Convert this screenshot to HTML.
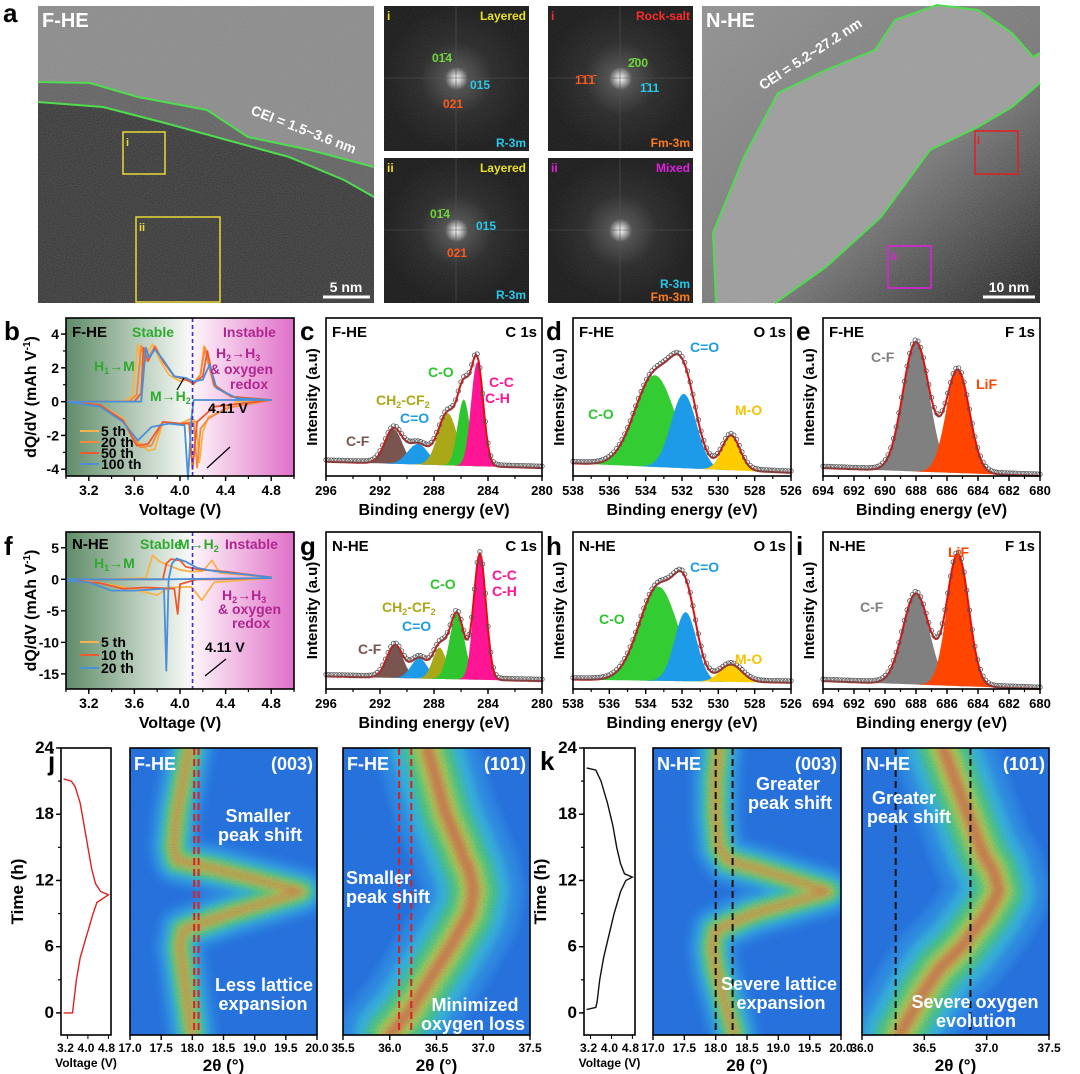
<!DOCTYPE html>
<html><head><meta charset="utf-8"><style>
html,body{margin:0;padding:0;background:#fff}
svg{display:block;font-family:"Liberation Sans",Arial,sans-serif;font-weight:bold}
</style></head><body>
<svg id="fig" width="1080" height="1074" viewBox="0 0 1080 1074" xmlns="http://www.w3.org/2000/svg">
<defs>
<filter id="noise" x="0" y="0" width="100%" height="100%"><feTurbulence type="fractalNoise" baseFrequency="0.9" numOctaves="2" seed="3"/><feColorMatrix type="matrix" values="0 0 0 0 0.5  0 0 0 0 0.5  0 0 0 0 0.5  0 0 0 0.35 0"/></filter>
<filter id="bnoise" x="0" y="0" width="100%" height="100%"><feTurbulence type="fractalNoise" baseFrequency="0.7" numOctaves="2" seed="7"/><feColorMatrix type="matrix" values="0 0 0 0 0.05  0 0 0 0 0.2  0 0 0 0 0.6  0 0 0 0.45 0"/></filter>
<filter id="blur" filterUnits="userSpaceOnUse" x="0" y="0" width="1080" height="1074"><feGaussianBlur stdDeviation="4"/></filter>
<radialGradient id="fft"><stop offset="0" stop-color="#fff"/><stop offset="0.05" stop-color="#d0d0d0"/><stop offset="0.16" stop-color="#4a4a4a"/><stop offset="0.5" stop-color="#242424"/><stop offset="1" stop-color="#161616"/></radialGradient>
<linearGradient id="bgb" x1="0" x2="1" y1="0" y2="0"><stop offset="0" stop-color="#5f8c68"/><stop offset="0.53" stop-color="#f4f8f4"/><stop offset="0.56" stop-color="#fdf4fa"/><stop offset="1" stop-color="#e070c8"/></linearGradient>
<linearGradient id="nhe" x1="0" x2="1" y1="0" y2="1"><stop offset="0" stop-color="#8d8d8d"/><stop offset="0.6" stop-color="#707070"/><stop offset="1" stop-color="#151515"/></linearGradient>
</defs>
</svg>
<script>
// ---------- data ----------
const bV5=[3.0,3.5,3.58,3.63,3.66,3.72,3.76,3.82,3.9,4.0,4.06,4.12,4.18,4.21,4.25,4.32,4.45,4.8,4.8,4.5,4.4,4.25,4.2,4.17,4.14,4.1,4.0,3.85,3.78,3.72,3.62,3.5,3.3,3.0];
const bQ5=[0,0,0.3,3.4,2.2,3.0,3.4,2.5,1.6,1.2,1.3,1.0,1.6,3.3,2.3,0.8,0.3,0.1,0.1,0,-0.5,-0.9,-1.8,-3.6,-1.2,-1.0,-1.3,-1.2,-2.8,-2.9,-2.3,-1.0,-0.2,0];
const bV20=[3.0,3.55,3.62,3.66,3.7,3.74,3.78,3.85,3.95,4.05,4.12,4.18,4.22,4.25,4.3,4.45,4.8,4.8,4.4,4.25,4.18,4.15,4.12,4.0,3.85,3.75,3.65,3.5,3.3,3.0];
const bQ20=[0,0,0.4,3.3,2.4,2.8,3.3,2.4,1.5,1.3,1.1,1.6,3.2,2.2,0.9,0.3,0.1,0.1,-0.4,-1.0,-1.6,-3.9,-1.2,-1.3,-1.2,-2.6,-2.7,-1.1,-0.2,0];
const bV50=[3.0,3.6,3.66,3.68,3.72,3.78,3.85,3.95,4.05,4.12,4.2,4.24,4.3,4.45,4.8,4.8,4.3,4.15,4.11,4.08,4.0,3.85,3.72,3.62,3.5,3.3,3.0];
const bQ50=[0,0,0.5,3.2,2.4,3.2,2.4,1.5,1.3,1.1,1.5,3.0,1.0,0.3,0.1,0.1,-0.3,-1.2,-4.0,-1.3,-1.3,-1.2,-2.5,-2.6,-1.1,-0.2,0];
const bV100=[3.0,3.66,3.7,3.73,3.78,3.85,3.95,4.05,4.12,4.2,4.26,4.32,4.5,4.8,4.8,4.12,4.1,4.07,4.04,3.9,3.75,3.63,3.5,3.3,3.0];
const bQ100=[0,0,3.2,2.6,3.1,2.5,1.5,1.4,1.2,1.3,2.2,0.8,0.2,0.1,0.1,0.1,-1.0,-4.6,-1.4,-1.3,-1.5,-2.3,-1.2,-0.3,0];
const fV5=[3.0,3.3,3.7,3.76,3.82,3.9,4.0,4.1,4.2,4.28,4.35,4.8,4.8,4.3,4.19,4.1,3.9,3.8,3.5,3.2,3.0];
const fQ5=[-0.1,0,0.2,3.8,2.8,2.2,1.5,1.2,1.3,3.0,1.0,0.3,0.2,-0.5,-3.3,-1.2,-1.3,-2.5,-1.2,-0.3,-0.1];
const fV10=[3.0,3.5,3.85,3.88,3.92,4.0,4.05,4.15,4.4,4.8,4.8,4.35,4.15,4.0,3.98,3.95,3.7,3.5,3.3,3.0];
const fQ10=[-0.1,0,0,2.5,3.2,3.0,2.0,1.6,1.2,0.3,0.2,0,0,-0.8,-5.5,-1.5,-1.3,-1.5,-0.6,-0.1];
const fV20=[3.0,3.9,3.93,3.97,4.05,4.15,4.3,4.6,4.8,4.8,3.9,3.88,3.86,3.6,3.4,3.2,3.0];
const fQ20=[0,0,2.5,3.3,2.8,1.8,1.3,0.7,0.3,0.2,0,-14.5,-1.5,-1.8,-1.8,-0.5,-0.2];
// XPS components: centers, amplitudes, widths
const cC=[291.0,289.2,287.0,285.8,284.8], cA=[0.22,0.13,0.33,0.42,0.66], cW=[0.65,0.75,0.7,0.45,0.45];
const gC=[290.9,289.1,287.6,286.3,284.6], gA=[0.21,0.13,0.2,0.42,0.8], gW=[0.6,0.6,0.5,0.55,0.45];
const dC=[533.5,531.9,529.3], dA=[0.58,0.47,0.22], dW=[1.1,0.7,0.5];
const hC=[533.3,531.8,529.3], hA=[0.6,0.44,0.11], hW=[1.05,0.6,0.6];
const eC=[688.0,685.3], eA=[0.82,0.65], eW=[0.85,0.75];
const iC=[688.0,685.3], iA=[0.58,0.84], iW=[0.85,0.7];
// time-resolved XRD peak positions
const tT=[-2,0,2,4,6,7.5,9,11,13,13.8,15,18,21,24];
const j003=[18.0,17.95,17.9,17.85,17.8,17.85,18.6,19.75,18.4,17.75,17.7,17.75,17.85,17.95];
const j101=[36.0,36.2,36.35,36.5,36.65,36.75,36.85,36.9,36.85,36.8,36.75,36.6,36.5,36.4];
const k003=[18.3,18.2,18.1,18.0,17.95,18.0,18.6,19.8,18.7,18.2,18.05,18.0,18.0,18.05];
const k101=[36.3,36.4,36.5,36.62,36.8,36.9,37.0,37.1,37.05,37.0,36.95,36.85,36.75,36.65];
// voltage profiles
const jT=[0,0,1,3,5,7,9,10,10.7,11,11.7,13,15,17,19,20.5,21,21.2];
const jV=[3.05,3.4,3.45,3.55,3.7,3.95,4.2,4.35,4.8,4.5,4.3,4.15,4.0,3.85,3.7,3.5,3.35,3.05];
const kT=[0.3,0.5,1,3,5,7,9,11,12,12.3,12.6,13.5,15,17,19,21,22,22.2];
const kV=[3.05,3.4,3.45,3.55,3.7,3.9,4.1,4.35,4.55,4.8,4.5,4.35,4.2,4.05,3.85,3.6,3.4,3.05];

// ---------- helpers ----------
const NS='http://www.w3.org/2000/svg';
const svg=document.getElementById('fig');
function mk(tag,attrs,name,parent){
  const el=document.createElementNS(NS,tag);
  for(const k in attrs) el.setAttribute(k,attrs[k]);
  
  
  (parent||svg).appendChild(el);return el;
}
function txt(x,y,s,size,fill,name,anchor,extra){
  const a=Object.assign({x:x,y:y,'font-size':size,fill:fill||'#000','text-anchor':anchor||'start'},extra||{});
  const t=mk('text',a,name);t.innerHTML=s;return t;
}
function ax(p){
  p.sx=v=>p.x0+(v-p.xmin)/(p.xmax-p.xmin)*(p.x1-p.x0);
  p.sy=v=>p.y1-(v-p.ymin)/(p.ymax-p.ymin)*(p.y1-p.y0);
  return p;
}
function frame(p,name){mk('rect',{x:p.x0,y:p.y0,width:p.x1-p.x0,height:p.y1-p.y0,fill:'none',stroke:'#000','stroke-width':1.6},name);}
function xticks(p,vals,minor,labels,ly,fs,name){
  vals.forEach((v,i)=>{mk('line',{x1:p.sx(v),x2:p.sx(v),y1:p.y1,y2:p.y1+5,stroke:'#000','stroke-width':1.4},name+'-tick');
    txt(p.sx(v),ly,labels[i],fs||13,'#000',name+'-label','middle');});
  minor.forEach(v=>mk('line',{x1:p.sx(v),x2:p.sx(v),y1:p.y1,y2:p.y1+3,stroke:'#000','stroke-width':1.2},name+'-minor-tick'));
}
function yticks(p,vals,minor,labels,fs,name){
  vals.forEach((v,i)=>{mk('line',{x1:p.x0-5,x2:p.x0,y1:p.sy(v),y2:p.sy(v),stroke:'#000','stroke-width':1.4},name+'-tick');
    txt(p.x0-7,p.sy(v)+5,labels[i],fs||14,'#000',name+'-label','end');});
  minor.forEach(v=>mk('line',{x1:p.x0-3,x2:p.x0,y1:p.sy(v),y2:p.sy(v),stroke:'#000','stroke-width':1.2},name+'-minor-tick'));
}
function range(a,b,s){const r=[];for(let v=a;v<=b+1e-9;v+=s)r.push(+v.toFixed(3));return r;}
function poly(p,X,Y,attrs,name){
  const pts=X.map((x,i)=>p.sx(x).toFixed(1)+','+p.sy(Y[i]).toFixed(1)).join(' ');
  return mk('polyline',Object.assign({points:pts,fill:'none'},attrs),name);
}
function label(x,y,s,name){txt(x,y,s,26,'#000',name);}

// ---------- panel a ----------
label(3,22,'a','panel-label-a');
mk('rect',{x:38,y:6,width:336,height:297,fill:'#878787'},'tem-fhe-image');
mk('path',{d:'M38,82 L90,83 L138,97 L207,110 L248,137 L310,150 L374,167 L374,303 L38,303 Z',fill:'#5a5a5a'},'tem-fhe-cei-layer');
mk('path',{d:'M38,102 L103,107 L165,123 L227,140 L289,157 L344,180 L374,197 L374,303 L38,303 Z',fill:'#2e2e2e'},'tem-fhe-bulk');
mk('rect',{x:38,y:6,width:336,height:297,filter:'url(#noise)'},'tem-fhe-texture');
mk('polyline',{points:'38,82 90,83 138,97 207,110 248,137 310,150 374,167',fill:'none',stroke:'#4fdc4f','stroke-width':2},'cei-outer-line');
mk('polyline',{points:'38,102 103,107 165,123 227,140 289,157 344,180 374,197',fill:'none',stroke:'#4fdc4f','stroke-width':2},'cei-inner-line');
mk('rect',{x:123,y:132,width:42,height:42,fill:'none',stroke:'#e8d838','stroke-width':1.5},'region-i-box');
mk('rect',{x:136,y:217,width:84,height:85,fill:'none',stroke:'#e8d838','stroke-width':1.5},'region-ii-box');
txt(126,146,'i',11,'#e8d838','region-i-label');txt(139,231,'ii',11,'#e8d838','region-ii-label');
txt(42,27,'F-HE',20,'#fff','tem-fhe-title');
txt(302,134,'CEI = 1.5~3.6 nm',14,'#fff','cei-fhe-label','middle',{transform:'rotate(21 302 134)'});
mk('line',{x1:323,y1:297,x2:370,y2:297,stroke:'#fff','stroke-width':3},'scale-bar-5nm');
txt(346,292,'5 nm',14,'#fff','scale-bar-5nm-label','middle');
// FFT panels
const fft=[[384,6,'fft-layered-i'],[384,158,'fft-layered-ii'],[548,6,'fft-rocksalt-i'],[548,158,'fft-mixed-ii']];
fft.forEach(f=>{mk('rect',{x:f[0],y:f[1],width:145,height:145,fill:'url(#fft)'},f[2]);
  mk('rect',{x:f[0],y:f[1],width:145,height:145,filter:'url(#noise)',opacity:0.5},f[2]+'-noise');
  mk('line',{x1:f[0]+72,x2:f[0]+72,y1:f[1],y2:f[1]+145,stroke:'#555','stroke-width':0.6},f[2]+'-axis-v');
  mk('line',{x1:f[0],x2:f[0]+145,y1:f[1]+72,y2:f[1]+72,stroke:'#555','stroke-width':0.6},f[2]+'-axis-h');});
txt(387,20,'i',12,'#e8e020','fft-i-tag');txt(526,20,'Layered',12,'#e8e020','fft-i-phase','end');
txt(526,147,'R-3m',12,'#28c8e8','fft-i-group','end');
txt(432,62,'01&#772;4',12,'#6fd83a','fft-i-014');txt(470,89,'015',12,'#28c8e8','fft-i-015');txt(443,108,'021',12,'#ff5a1e','fft-i-021');
txt(387,172,'ii',12,'#e8e020','fft-ii-tag');txt(526,172,'Layered',12,'#e8e020','fft-ii-phase','end');
txt(526,299,'R-3m',12,'#28c8e8','fft-ii-group','end');
txt(430,218,'01&#772;4',12,'#6fd83a','fft-ii-014');txt(476,230,'015',12,'#28c8e8','fft-ii-015');txt(447,257,'021',12,'#ff5a1e','fft-ii-021');
txt(551,20,'i',12,'#ff2a2a','fft-rs-tag');txt(690,20,'Rock-salt',12,'#ff2a2a','fft-rs-phase','end');
txt(690,147,'Fm-3m',12,'#ff7a1e','fft-rs-group','end');
txt(628,67,'2&#772;00',12,'#6fd83a','fft-rs-200');txt(575,84,'1&#772;1&#772;1&#772;',12,'#ff5a1e','fft-rs-111');txt(640,92,'1&#772;11',12,'#28c8e8','fft-rs-111b');
txt(551,172,'ii',12,'#e020e0','fft-mixed-tag');txt(690,172,'Mixed',12,'#e020e0','fft-mixed-phase','end');
txt(690,288,'R-3m',12,'#28c8e8','fft-mixed-group1','end');txt(690,301,'Fm-3m',12,'#ff7a1e','fft-mixed-group2','end');
// N-HE TEM
mk('rect',{x:702,y:6,width:338,height:297,fill:'url(#nhe)'},'tem-nhe-image');
mk('path',{d:'M716,303 L713,233 L744,157 L778,93 L826,70 L875,50 L895,20 L937,5 L978,10 L1012,33 L1033,57 L1040,53 L1040,83 L1012,107 L978,127 L930,150 L881,217 L826,267 L775,303 Z',fill:'#9a9a9a'},'nhe-cei-region');
mk('rect',{x:702,y:6,width:338,height:297,filter:'url(#noise)'},'tem-nhe-texture');
mk('polyline',{points:'716,303 713,233 744,157 778,93 826,70 875,50 895,20 937,5 978,10 1012,33 1033,57 1040,53',fill:'none',stroke:'#4fdc4f','stroke-width':2},'nhe-cei-outer');
mk('polyline',{points:'775,303 826,267 881,217 930,150 978,127 1012,107 1040,83',fill:'none',stroke:'#4fdc4f','stroke-width':2},'nhe-cei-inner');
mk('rect',{x:975,y:131,width:43,height:43,fill:'none',stroke:'#e02020','stroke-width':1.5},'nhe-region-i-box');
mk('rect',{x:888,y:246,width:43,height:42,fill:'none',stroke:'#e020e0','stroke-width':1.5},'nhe-region-ii-box');
txt(977,144,'i',11,'#e02020','nhe-region-i-label');txt(891,260,'ii',11,'#e020e0','nhe-region-ii-label');
txt(706,27,'N-HE',20,'#fff','tem-nhe-title');
txt(813,58,'CEI = 5.2~27.2 nm',14,'#fff','cei-nhe-label','middle',{transform:'rotate(-33 813 58)'});
mk('line',{x1:983,y1:297,x2:1035,y2:297,stroke:'#fff','stroke-width':3},'scale-bar-10nm');
txt(1009,292,'10 nm',14,'#fff','scale-bar-10nm-label','middle');

// ---------- dQ/dV panels ----------
function dqdv(p,tag,yt,ym,yl,series,leg,legY){
  mk('rect',{x:p.x0,y:p.y0,width:p.x1-p.x0,height:p.y1-p.y0,fill:'url(#bgb)'},tag+'-background');
  series.forEach(s=>poly(p,s[0],s[1],{stroke:s[2],'stroke-width':1.8,'stroke-linejoin':'round'},tag+'-curve-'+s[3]));
  mk('line',{x1:p.sx(4.11),x2:p.sx(4.11),y1:p.y0,y2:p.y1,stroke:'#3a2ae0','stroke-width':1.6,'stroke-dasharray':'4,3'},tag+'-4.11v-line');
  frame(p,tag+'-frame');
  xticks(p,range(3.2,4.8,0.4),range(3.0,5.0,0.2),['3.2','3.6','4.0','4.4','4.8'],p.y1+19,14,tag+'-x');
  yticks(p,yt,ym,yl,14,tag+'-y');
  txt((p.x0+p.x1)/2,p.y1+39,'Voltage (V)',16,'#000',tag+'-x-title','middle');
  txt(36,(p.y0+p.y1)/2,'dQ/dV (mAh V<tspan font-size="10" dy="-6">-1</tspan><tspan dy="6">)</tspan>',16,'#000',tag+'-y-title','middle',{transform:'rotate(-90 36 '+(p.y0+p.y1)/2+')'});
  series.forEach((s,i)=>{mk('line',{x1:80,x2:99,y1:legY[i],y2:legY[i],stroke:s[2],'stroke-width':2},tag+'-legend-line');
    txt(101,legY[i]+5,leg[i],14,'#000',tag+'-legend-entry');});
}
label(4,340,'b','panel-label-b');
const pb=ax({x0:66,x1:294,y0:318,y1:476,xmin:3.0,xmax:5.0,ymin:-4.4,ymax:4.95});
dqdv(pb,'b',[-4,-2,0,2,4],range(-4,4,1),['-4','-2','0','2','4'],
 [[bV5,bQ5,'#f8b24a','5th'],[bV20,bQ20,'#f38a3a','20th'],[bV50,bQ50,'#ee5a2e','50th'],[bV100,bQ100,'#4a8fd8','100th']],
 ['5 th','20 th','50 th','100 th'],[431,442,453,464]);
txt(72,337,'F-HE',15,'#000','b-sample-label');
txt(132,337,'Stable',14,'#2eaa2e','b-stable-label');txt(223,337,'Instable',14,'#b0268f','b-instable-label');
txt(94,371,'H<tspan font-size="9" dy="3">1</tspan><tspan dy="-3">&#8594;M</tspan>',14,'#2eaa2e','b-h1-m-label');
txt(216,358,'H<tspan font-size="9" dy="3">2</tspan><tspan dy="-3">&#8594;H</tspan><tspan font-size="9" dy="3">3</tspan>',14,'#b0268f','b-h2-h3-label');
txt(210,374,'&amp; oxygen',14,'#b0268f','b-oxygen-label');txt(230,389,'redox',14,'#b0268f','b-redox-label');
txt(150,401,'M&#8594;H<tspan font-size="9" dy="3">2</tspan>',14,'#2eaa2e','b-m-h2-label');
mk('line',{x1:177,y1:390,x2:184,y2:378,stroke:'#000','stroke-width':1.2},'b-m-h2-arrow');
txt(208,413,'4.11 V',14,'#000','b-4.11v-label');
mk('line',{x1:230,y1:447,x2:207,y2:468,stroke:'#000','stroke-width':1.2},'b-4.11v-arrow');

label(4,555,'f','panel-label-f');
const pf=ax({x0:66,x1:294,y0:532,y1:689,xmin:3.0,xmax:5.0,ymin:-17.4,ymax:7.5});
dqdv(pf,'f',[-15,-10,-5,0,5],[],['-15','-10','-5','0','5'],
 [[fV5,fQ5,'#f8b24a','5th'],[fV10,fQ10,'#ee5a2e','10th'],[fV20,fQ20,'#4a8fd8','20th']],
 ['5 th','10 th','20 th'],[642,655,668]);
txt(72,549,'N-HE',15,'#000','f-sample-label');
txt(140,549,'Stable',14,'#2eaa2e','f-stable-label');txt(178,549,'M&#8594;H<tspan font-size="9" dy="3">2</tspan>',14,'#2eaa2e','f-m-h2-label');
txt(225,549,'Instable',14,'#b0268f','f-instable-label');
txt(94,568,'H<tspan font-size="9" dy="3">1</tspan><tspan dy="-3">&#8594;M</tspan>',14,'#2eaa2e','f-h1-m-label');
txt(222,600,'H<tspan font-size="9" dy="3">2</tspan><tspan dy="-3">&#8594;H</tspan><tspan font-size="9" dy="3">3</tspan>',14,'#b0268f','f-h2-h3-label');
txt(218,614,'&amp; oxygen',14,'#b0268f','f-oxygen-label');txt(232,628,'redox',14,'#b0268f','f-redox-label');
txt(205,652,'4.11 V',14,'#000','f-4.11v-label');
mk('line',{x1:226,y1:659,x2:205,y2:676,stroke:'#000','stroke-width':1.2},'f-4.11v-arrow');

// ---------- XPS panels ----------
const cols=['#7a5550','#1e9be8','#aaa818','#2ec52e','#ff1493'];
function gauss(C,A,W,e){let s=0;for(let i=0;i<C.length;i++)s+=A[i]*Math.exp(-0.5*((e-C[i])/W[i])**2);return s;}
function xps(p,tag,C,A,W,colors,bl0,bl1,maj,labs,minStep){
  const base=e=>bl0+(bl1-bl0)*(e-p.xmin)/(p.xmax-p.xmin);
  const N=160,E=[];for(let k=0;k<=N;k++)E.push(p.xmin+(p.xmax-p.xmin)*k/N);
  C.forEach((c,i)=>{
    const top=E.map(e=>p.sx(e).toFixed(1)+','+p.sy(base(e)+A[i]*Math.exp(-0.5*((e-c)/W[i])**2)).toFixed(1));
    const bot=E.slice().reverse().map(e=>p.sx(e).toFixed(1)+','+p.sy(base(e)).toFixed(1));
    mk('polygon',{points:top.concat(bot).join(' '),fill:colors[i]},tag+'-component-'+i);
  });
  const env=E.map(e=>base(e)+gauss(C,A,W,e));
  poly(p,E,env,{stroke:'#e01010','stroke-width':2},tag+'-fit-envelope');
  for(let k=0;k<=N;k+=2)mk('circle',{cx:p.sx(E[k]),cy:p.sy(env[k]+0.012),r:2.2,fill:'none',stroke:'#555','stroke-width':0.8},tag+'-data-point');
  frame(p,tag+'-frame');
  const mn=[];for(let v=Math.min(p.xmin,p.xmax);v<=Math.max(p.xmin,p.xmax);v+=minStep)mn.push(v);
  xticks(p,maj,mn,labs,p.y1+19,13,tag+'-x');
  txt((p.x0+p.x1)/2,p.y1+39,'Binding energy (eV)',16,'#000',tag+'-x-title','middle');
  const cy=(p.y0+p.y1)/2;
  txt(p.x0-9,cy,'Intensity (a.u)',15,'#000',tag+'-y-title','middle',{transform:'rotate(-90 '+(p.x0-9)+' '+cy+')'});
}
const pc=ax({x0:326,x1:542,y0:318,y1:476,xmin:296,xmax:280,ymin:0,ymax:1});
const pd=ax({x0:573,x1:791,y0:318,y1:476,xmin:538,xmax:526,ymin:0,ymax:1});
const pe=ax({x0:823,x1:1040,y0:318,y1:476,xmin:694,xmax:680,ymin:0,ymax:1});
const pg=ax({x0:326,x1:542,y0:532,y1:689,xmin:296,xmax:280,ymin:0,ymax:1});
const ph=ax({x0:573,x1:791,y0:532,y1:689,xmin:538,xmax:526,ymin:0,ymax:1});
const pi=ax({x0:823,x1:1040,y0:532,y1:689,xmin:694,xmax:680,ymin:0,ymax:1});
const cLab=['296','292','288','284','280'],cMaj=[296,292,288,284,280];
const dMaj=range(526,538,2).reverse(),dLab=dMaj.map(String);
const eMaj=range(680,694,2).reverse(),eLab=eMaj.map(String);
xps(pc,'c',cC,cA,cW,cols,0.09,0.05,cMaj,cLab,2);
xps(pd,'d',dC,dA,dW,['#33cc33','#1e9be8','#ffcc00'],0.08,0.02,dMaj,dLab,1);
xps(pe,'e',eC,eA,eW,['#808080','#ff4500'],0.05,0.0,eMaj,eLab,1);
xps(pg,'g',gC,gA,gW,cols,0.08,0.05,cMaj,cLab,2);
xps(ph,'h',hC,hA,hW,['#33cc33','#1e9be8','#ffcc00'],0.06,0.04,dMaj,dLab,1);
xps(pi,'i',iC,iA,iW,['#808080','#ff4500'],0.05,0.0,eMaj,eLab,1);
label(300,340,'c','panel-label-c');label(546,340,'d','panel-label-d');label(796,340,'e','panel-label-e');
label(300,555,'g','panel-label-g');label(546,555,'h','panel-label-h');label(796,555,'i','panel-label-i');
[[pc,'F-HE','C 1s','c'],[pd,'F-HE','O 1s','d'],[pe,'F-HE','F 1s','e'],[pg,'N-HE','C 1s','g'],[ph,'N-HE','O 1s','h'],[pi,'N-HE','F 1s','i']].forEach(a=>{
  txt(a[0].x0+6,a[0].y0+19,a[1],15,'#000',a[3]+'-sample-label');txt(a[0].x1-5,a[0].y0+19,a[2],15,'#000',a[3]+'-core-level','end');});
txt(489,387,'C-C',14,'#ff1493','c-cc-label');txt(485,403,'C-H',14,'#ff1493','c-ch-label');
txt(428,377,'C-O',14,'#2ec52e','c-co-label');
txt(376,405,'CH<tspan font-size="9" dy="3">2</tspan><tspan dy="-3">-CF</tspan><tspan font-size="9" dy="3">2</tspan>',14,'#aaa818','c-ch2cf2-label');
txt(400,423,'C=O',14,'#1e9be8','c-c=o-label');txt(346,446,'C-F',14,'#7a5550','c-cf-label');
txt(690,352,'C=O',14,'#1e9be8','d-c=o-label');txt(588,419,'C-O',14,'#2ec52e','d-co-label');txt(735,415,'M-O',14,'#f5c400','d-mo-label');
txt(871,362,'C-F',14,'#808080','e-cf-label');txt(976,389,'LiF',14,'#ff4500','e-lif-label');
txt(492,580,'C-C',14,'#ff1493','g-cc-label');txt(492,596,'C-H',14,'#ff1493','g-ch-label');
txt(430,589,'C-O',14,'#2ec52e','g-co-label');
txt(382,612,'CH<tspan font-size="9" dy="3">2</tspan><tspan dy="-3">-CF</tspan><tspan font-size="9" dy="3">2</tspan>',14,'#aaa818','g-ch2cf2-label');
txt(402,631,'C=O',14,'#1e9be8','g-c=o-label');txt(358,654,'C-F',14,'#7a5550','g-cf-label');
txt(690,572,'C=O',14,'#1e9be8','h-c=o-label');txt(599,624,'C-O',14,'#2ec52e','h-co-label');txt(735,664,'M-O',14,'#f5c400','h-mo-label');
txt(860,612,'C-F',14,'#808080','i-cf-label');txt(948,557,'LiF',14,'#ff4500','i-lif-label');

// ---------- time-resolved panels ----------
label(48,770,'j','panel-label-j');label(540,770,'k','panel-label-k');
function vbox(p,tag,T,V,color){
  poly(p,V,T,{stroke:color,'stroke-width':1.4},tag+'-voltage-curve');
  frame(p,tag+'-frame');
  yticks(p,[0,6,12,18,24],range(-0,24,3),['0','6','12','18','24'],17,tag+'-time');
  [3.2,4.0,4.8].forEach((v,i)=>{mk('line',{x1:p.sx(v),x2:p.sx(v),y1:p.y1,y2:p.y1+4,stroke:'#000'},tag+'-x-tick');});
  txt((p.x0+p.x1)/2,p.y1+17,'3.2 4.0 4.8',12,'#000',tag+'-x-labels','middle',{textLength:p.x1-p.x0+8});
  txt((p.x0+p.x1)/2,p.y1+32,'Voltage (V)',12,'#000',tag+'-x-title','middle');
  const cy=(p.y0+p.y1)/2;
  txt(p.x0-38,cy,'Time (h)',17,'#000',tag+'-y-title','middle',{transform:'rotate(-90 '+(p.x0-38)+' '+cy+')'});
}
const pjv=ax({x0:61,x1:111,y0:748,y1:1035,xmin:2.95,xmax:4.9,ymin:-2,ymax:24});
const pkv=ax({x0:584,x1:635,y0:748,y1:1035,xmin:2.95,xmax:4.9,ymin:-2,ymax:24});
vbox(pjv,'j',jT,jV,'#e02020');vbox(pkv,'k',kT,kV,'#111');
let clipN=0;
function heat(p,tag,T,P,wide,dash,dcol,majors,labs){
  const id='clip'+(clipN++);
  const cp=mk('clipPath',{id:id},tag+'-clip');
  mk('rect',{x:p.x0,y:p.y0,width:p.x1-p.x0,height:p.y1-p.y0},tag+'-clip-rect',cp);
  const g=mk('g',{'clip-path':'url(#'+id+')'},tag+'-heatmap');
  mk('rect',{x:p.x0,y:p.y0,width:p.x1-p.x0,height:p.y1-p.y0,fill:'#1f6ee0'},tag+'-heatmap-bg',g);
  const pts=P.map((x,i)=>p.sx(x).toFixed(1)+','+p.sy(T[i]).toFixed(1)).join(' ');
  const layers=wide?[[100,'#2a8ee6'],[72,'#36c0dc'],[48,'#4fd466'],[28,'#c8e030'],[14,'#f0a030'],[5,'#e85020']]:[[50,'#2a8ee6'],[34,'#36c0dc'],[22,'#52d860'],[12,'#d8e030'],[5,'#f07028']];
  layers.forEach((l,i)=>mk('polyline',{points:pts,fill:'none',stroke:l[1],'stroke-width':l[0],'stroke-linejoin':'round','stroke-linecap':'round',filter:'url(#blur)',opacity:0.92},tag+'-band-'+i,g));
  mk('rect',{x:p.x0,y:p.y0,width:p.x1-p.x0,height:p.y1-p.y0,filter:'url(#bnoise)'},tag+'-heatmap-noise',g);
  dash.forEach(v=>mk('line',{x1:p.sx(v),x2:p.sx(v),y1:p.y0,y2:p.y1,stroke:dcol,'stroke-width':2,'stroke-dasharray':'7,4'},tag+'-ref-line',g));
  frame(p,tag+'-frame');
  xticks(p,majors,[],labs,p.y1+17,12,tag+'-x');
  txt((p.x0+p.x1)/2,p.y1+36,'2&#952; (&#176;)',17,'#000',tag+'-x-title','middle');
}
const hj1=ax({x0:130,x1:317,y0:748,y1:1035,xmin:17.0,xmax:20.0,ymin:-2,ymax:24});
const hj2=ax({x0:343,x1:530,y0:748,y1:1035,xmin:35.5,xmax:37.5,ymin:-2,ymax:24});
const hk1=ax({x0:653,x1:841,y0:748,y1:1035,xmin:17.0,xmax:20.0,ymin:-2,ymax:24});
const hk2=ax({x0:862,x1:1049,y0:748,y1:1035,xmin:36.0,xmax:37.5,ymin:-2,ymax:24});
const m003=range(17,20,0.5),l003=m003.map(v=>v.toFixed(1));
heat(hj1,'j-003',tT,j003,false,[18.03,18.1],'#d82020',m003,l003);
heat(hj2,'j-101',tT,j101,true,[36.1,36.23],'#d82020',range(35.5,37.5,0.5),['35.5','36.0','36.5','37.0','37.5']);
heat(hk1,'k-003',tT,k003,false,[18.0,18.27],'#111',m003,l003);
heat(hk2,'k-101',tT,k101,true,[36.27,36.87],'#111',range(36,37.5,0.5),['36.0','36.5','37.0','37.5']);
function ht(x,y,s,a,name){txt(x,y,s,18,'#fff',name,a||'start');}
ht(134,770,'F-HE','start','j-003-sample');ht(313,770,'(003)','end','j-003-plane');
ht(258,822,'Smaller','middle','j-003-note1');ht(260,841,'peak shift','middle','j-003-note2');
ht(264,991,'Less lattice','middle','j-003-note3');ht(263,1010,'expansion','middle','j-003-note4');
ht(347,770,'F-HE','start','j-101-sample');ht(526,770,'(101)','end','j-101-plane');
ht(346,884,'Smaller','start','j-101-note1');ht(346,903,'peak shift','start','j-101-note2');
ht(475,1011,'Minimized','middle','j-101-note3');ht(473,1030,'oxygen loss','middle','j-101-note4');
ht(657,770,'N-HE','start','k-003-sample');ht(837,770,'(003)','end','k-003-plane');
ht(788,790,'Greater','middle','k-003-note1');ht(790,809,'peak shift','middle','k-003-note2');
ht(779,990,'Severe lattice','middle','k-003-note3');ht(781,1009,'expansion','middle','k-003-note4');
ht(866,770,'N-HE','start','k-101-sample');ht(1045,770,'(101)','end','k-101-plane');
ht(904,804,'Greater','middle','k-101-note1');ht(909,823,'peak shift','middle','k-101-note2');
ht(975,1008,'Severe oxygen','middle','k-101-note3');ht(976,1027,'evolution','middle','k-101-note4');
</script>
</body></html>
